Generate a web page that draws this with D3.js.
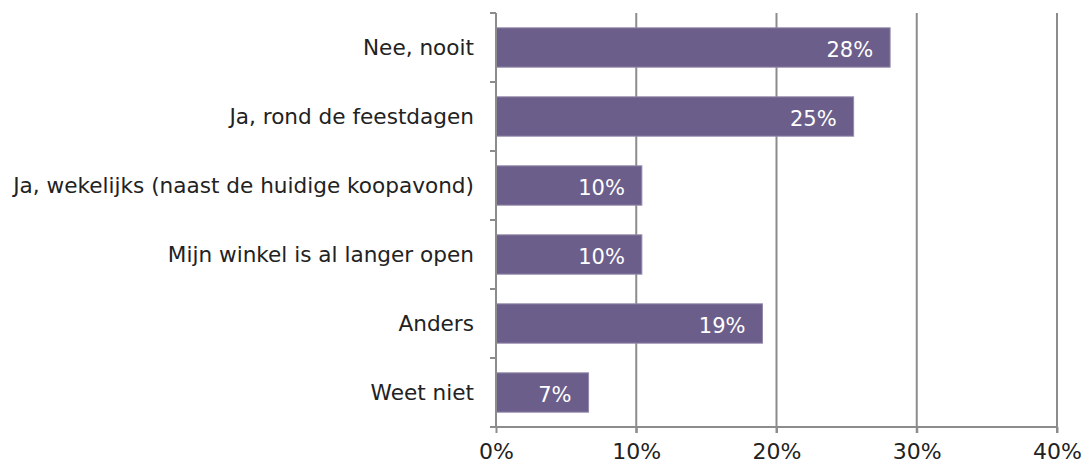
<!DOCTYPE html>
<html lang="nl">
<head>
<meta charset="UTF-8" />
<title>Koopzondag</title>
<script src="https://d3js.org/d3.v7.min.js"></script>
<style>
    body { margin: 0; background: #fff; font-family: "DejaVu Sans", Verdana, sans-serif; }
    .grid line { stroke: #8c8c8c; stroke-width: 2px; }
    .axis path, .axis line { stroke: #8c8c8c; stroke-width: 2px; }
    .axis text { fill: #222; }
</style>
</head>
<body>
<div id="chart"></div>
<script>
    const categories = [
        "Nee, nooit",
        "Ja, rond de feestdagen",
        "Ja, wekelijks (naast de huidige koopavond)",
        "Mijn winkel is al langer open",
        "Anders",
        "Weet niet"
    ];
    const values = [28.1, 25.5, 10.4, 10.4, 19.0, 6.6];
    const labels = ["28%", "25%", "10%", "10%", "19%", "7%"];
    const xTicks = [0, 10, 20, 30, 40];

    const W = 1086, H = 467;
    const margin = { top: 13, right: 29, bottom: 40, left: 496 };
    const width = W - margin.left - margin.right,
          height = H - margin.top - margin.bottom;

    const svg = d3.select("#chart").append("svg")
        .attr("width", W).attr("height", H)
        .append("g")
        .attr("transform", `translate(${margin.left},${margin.top})`);

    const x = d3.scaleLinear().domain([0, 40]).range([0, width]);
    const y = d3.scaleBand().domain(categories).range([0, height]).paddingInner(0.43).paddingOuter(0.215);

    // vertical gridlines (extend below axis as ticks)
    svg.append("g").attr("class", "grid")
        .selectAll("line").data(xTicks.slice(1)).join("line")
        .attr("x1", d => x(d)).attr("x2", d => x(d))
        .attr("y1", 0).attr("y2", height + 6);

    // bars
    svg.selectAll(".bar").data(values).join("rect")
        .attr("class", "bar")
        .attr("x", 0)
        .attr("y", (d, i) => y(categories[i]))
        .attr("width", d => x(d))
        .attr("height", y.bandwidth())
        .attr("fill", "#6b5e8a")
        .attr("stroke", "#9489ab")
        .attr("stroke-width", 1);

    svg.selectAll(".val").data(values).join("text")
        .attr("class", "val")
        .attr("x", d => x(d) - 17)
        .attr("y", (d, i) => y(categories[i]) + y.bandwidth() / 2 + 2)
        .attr("dy", "0.35em")
        .attr("text-anchor", "end")
        .attr("fill", "#fff")
        .attr("font-size", "21px")
        .text((d, i) => labels[i]);

    // y axis: line with outward ticks at band boundaries
    const step = y.step();
    const yAxis = svg.append("g").attr("class", "axis");
    yAxis.append("line").attr("x1", 0).attr("x2", 0).attr("y1", 0).attr("y2", height);
    yAxis.selectAll(".yt").data(d3.range(categories.length + 1)).join("line")
        .attr("class", "yt")
        .attr("x1", -6).attr("x2", 0)
        .attr("y1", i => i * step).attr("y2", i => i * step);
    yAxis.selectAll(".cat").data(categories).join("text")
        .attr("class", "cat")
        .attr("x", -22)
        .attr("y", d => y(d) + y.bandwidth() / 2)
        .attr("dy", "0.35em")
        .attr("text-anchor", "end")
        .attr("font-size", "21.6px")
        .text(d => d);

    // x axis
    const xAxis = svg.append("g").attr("class", "axis")
        .attr("transform", `translate(0,${height})`)
        .call(d3.axisBottom(x).tickValues(xTicks).tickSize(6).tickSizeOuter(0).tickFormat(d => d + "%"));
    xAxis.select(".domain").attr("d", `M-6,0H${width}`);
    xAxis.selectAll("text").attr("font-size", "22px").attr("font-family", "DejaVu Sans, Verdana, sans-serif").attr("dy", "1.05em");
</script>
</body>
</html>
